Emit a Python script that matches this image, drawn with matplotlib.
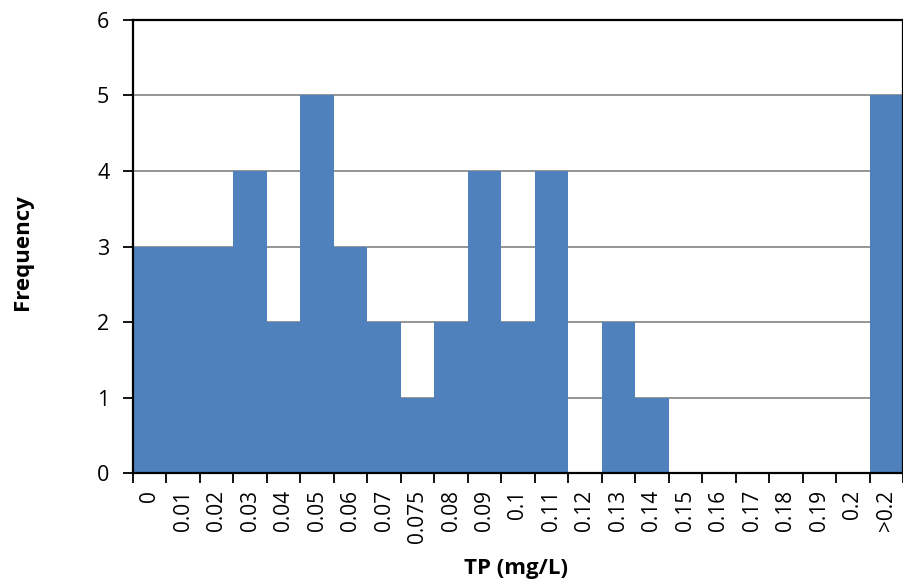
import numpy as np
import matplotlib
matplotlib.use("Agg")
import matplotlib.pyplot as plt

plt.rcParams['font.family'] = ['Open Sans', 'DejaVu Sans']

bins = ['0', '0.01', '0.02', '0.03', '0.04', '0.05', '0.06', '0.07', '0.075',
        '0.08', '0.09', '0.1', '0.11', '0.12', '0.13', '0.14', '0.15', '0.16',
        '0.17', '0.18', '0.19', '0.2', '>0.2']
freq = [3, 3, 3, 4, 2, 5, 3, 2, 1, 2, 4, 2, 4, 0, 2, 1, 0, 0, 0, 0, 0, 0, 5]

fig = plt.figure(figsize=(9.04, 5.85), dpi=100)
ax = fig.add_axes([0.147, 0.191, 0.852, 0.775])

x = np.arange(len(bins))
ax.bar(x, freq, width=1.0, color='#4F81BD', zorder=3)

ax.set_xlim(-0.5, len(bins) - 0.5)
ax.set_ylim(0, 6)
ax.set_yticks(range(7))
ax.yaxis.grid(True, color='#8C8C8C', linewidth=1.3, zorder=0)

# labels in the middle of each bin, tick marks on the bin edges
ax.set_xticks(x)
ax.set_xticklabels(bins, rotation=90, fontsize=15)
ax.set_xticks(np.arange(len(bins) + 1) - 0.5, minor=True)
ax.tick_params(axis='x', which='major', length=0, pad=12)
ax.tick_params(axis='x', which='minor', length=7, width=1.3, direction='out')
ax.tick_params(axis='y', length=7, width=1.3, direction='out', labelsize=15.5, pad=10)

for s in ax.spines.values():
    s.set_linewidth(1.6)
    s.set_color('black')
    s.set_zorder(4)

fig.text(0.571, 0.029, 'TP (mg/L)', fontsize=16, fontweight='bold',
         ha='center', va='center')
fig.text(0.025, 0.569, 'Frequency', rotation=90, fontsize=16,
         fontweight='bold', ha='center', va='center')

fig.savefig('out.png', dpi=100)
